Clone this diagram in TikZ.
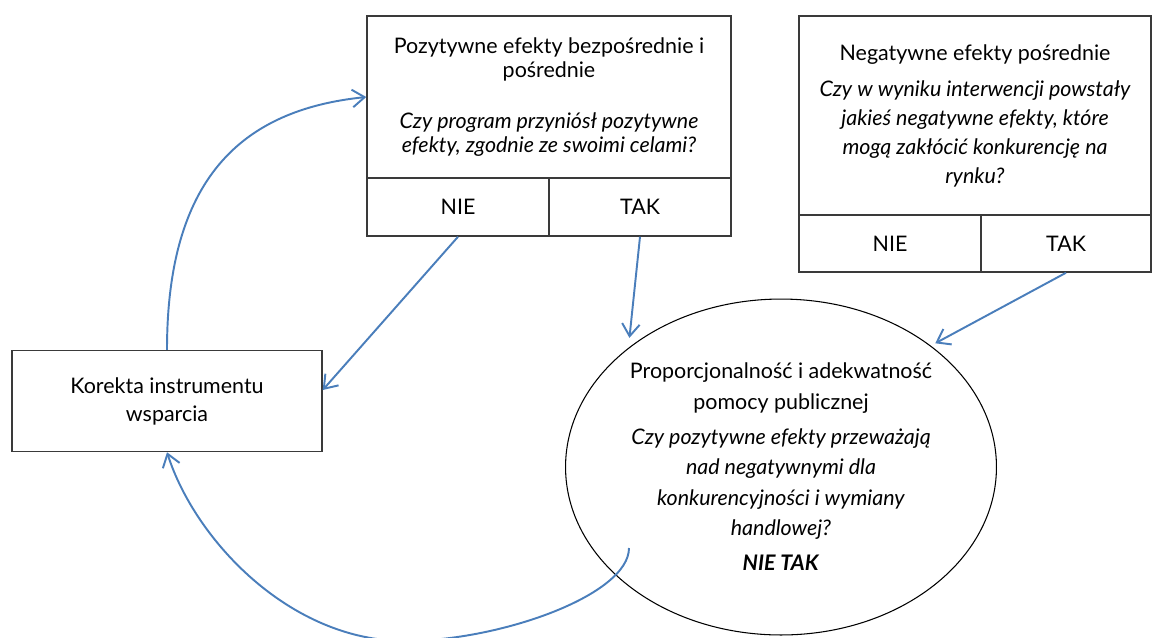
\documentclass[tikz,border=0pt]{standalone}
\usepackage{fontspec}
\setmainfont{Lato}
\usepackage{xcolor}
\usetikzlibrary{arrows.meta,shapes.geometric}
\definecolor{flowblue}{HTML}{4A7EBB}
\definecolor{frame}{HTML}{3A3A3A}

\begin{document}
\begin{tikzpicture}[x=0.02cm, y=-0.02cm,
  box/.style={draw=frame, line width=0.85pt, inner sep=0pt, align=center},
  cell/.style={box, minimum height=1.16cm, font=\fontsize{12.2}{13}\selectfont},
  flow/.style={flowblue, line width=1.1pt, -{Straight Barb[length=7pt, width=10pt]}}]
\useasboundingbox (0,0) rectangle (1152,637);

% === Positive effects box ===
\node[box, minimum width=7.28cm, minimum height=3.24cm,
  font=\fontsize{12.2}{13.7}\selectfont] (poz) at (549,97)
  {Pozytywne efekty bezpośrednie i\\ pośrednie\\[15pt]
   \textit{Czy program przyniósł pozytywne}\\
   \textit{efekty, zgodnie ze swoimi celami?}};
\node[cell, minimum width=3.64cm] (poznie) at (458,207) {NIE};
\node[cell, minimum width=3.64cm] (poztak) at (640,207) {TAK};

% === Negative effects box ===
\node[box, minimum width=7.04cm, minimum height=3.98cm,
  font=\fontsize{12.2}{16.5}\selectfont] (neg) at (975,115.5)
  {Negatywne efekty pośrednie\\[4pt]
   \textit{Czy w wyniku interwencji powstały}\\
   \textit{jakieś negatywne efekty, które}\\
   \textit{mogą zakłócić konkurencję na}\\
   \textit{rynku?}};
\node[cell, minimum width=3.64cm, minimum height=1.14cm] (negnie) at (890,243.5) {NIE};
\node[cell, minimum width=3.4cm, minimum height=1.14cm] (negtak) at (1066,243.5) {TAK};

% === Correction box ===
\node[box, minimum width=6.2cm, minimum height=2.02cm,
  font=\fontsize{12.2}{16}\selectfont] (kor) at (167,401)
  {Korekta instrumentu\\ wsparcia};

% === Proportionality ellipse ===
\node[ellipse, draw=black, line width=0.6pt, inner sep=0pt, align=center,
  minimum width=8.62cm, minimum height=6.72cm,
  font=\fontsize{12.2}{17.2}\selectfont] (prop) at (781,467)
  {Proporcjonalność i adekwatność\\ pomocy publicznej\\[3pt]
   \textit{Czy pozytywne efekty przeważają}\\
   \textit{nad negatywnymi dla}\\
   \textit{konkurencyjności i wymiany}\\
   \textit{handlowej?}\\[3pt]
   \textbf{\textit{NIE TAK}}};

% Arrows
\draw[flow] (poznie.south) -- ([yshift=0.22cm]kor.east);
\draw[flow, shorten >=0.2cm] (poztak.south) -- (prop.142);
\draw[flow, shorten >=0.1cm] (negtak.south) -- (prop.39);
\draw[flow] (kor.north) .. controls (167,180) and (240,110) .. (poz.west);
\coordinate (back) at (629,548);
\draw[flow] (back) .. controls (629,595) and (500,641) .. (405,641)
  .. controls (290,641) and (195,540) .. (kor.south);
\end{tikzpicture}
\end{document}
